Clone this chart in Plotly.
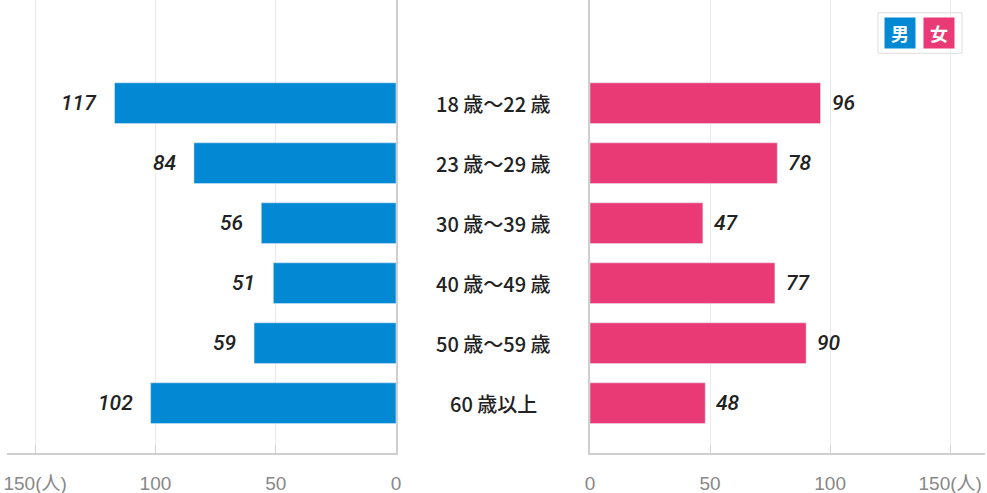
import plotly.graph_objs as go

# Data
age_groups = ["18 歳〜22 歳", "23 歳〜29 歳", "30 歳〜39 歳", "40 歳〜49 歳", "50 歳〜59 歳", "60 歳以上"]
male = [117, 84, 56, 51, 59, 102]
female = [96, 78, 47, 77, 90, 48]
tick_vals = [0, 50, 100, 150]
tick_text = ["0", "50", "100", "150(人)"]

BLUE = "#0389d3"
PINK = "#e93a75"
AXIS_GRAY = "#cfcfcf"
GRID_GRAY = "#ebebeb"

W, H = 987, 493
num_font = dict(family="Roboto, Arial", size=21, color="#222", style="italic", weight=500)

fig = go.Figure()

fig.add_trace(go.Bar(x=male, y=age_groups, orientation="h", marker=dict(color=BLUE),
                     width=0.68, xaxis="x", yaxis="y", hoverinfo="x+y", showlegend=False))
fig.add_trace(go.Bar(x=female, y=age_groups, orientation="h", marker=dict(color=PINK),
                     width=0.68, xaxis="x2", yaxis="y2", hoverinfo="x+y", showlegend=False))

annotations = []
# value labels
for g, v in zip(age_groups, male):
    annotations.append(dict(x=v, y=g, xref="x", yref="y", text=str(v), showarrow=False,
                            xanchor="right", xshift=-16, font=num_font))
for g, v in zip(age_groups, female):
    annotations.append(dict(x=v, y=g, xref="x2", yref="y2", text=str(v), showarrow=False,
                            xanchor="left", xshift=9, font=num_font))
# category labels in the middle
for g in age_groups:
    annotations.append(dict(x=493 / W, y=g, xref="paper", yref="y", text=g, showarrow=False,
                            xanchor="center",
                            font=dict(family="Noto Sans CJK JP", size=20, color="#222", weight=500)))

# legend chips
for label, color, cx in [("男", BLUE, 900), ("女", PINK, 939)]:
    annotations.append(dict(x=cx / W, y=1 - 36 / H, xref="paper", yref="paper",
                            text="<b>" + label + "</b>", showarrow=False,
                            xanchor="center", yanchor="middle",
                            bgcolor=color, width=28, height=28, borderpad=1,
                            font=dict(family="Noto Sans CJK JP", size=18, color="white")))

shapes = [dict(type="rect", xref="paper", yref="paper",
               x0=878 / W, x1=962 / W, y0=1 - 58 / H, y1=1 - 14 / H,
               line=dict(color="#dddddd", width=1), fillcolor="white", layer="below")]

xaxis_common = dict(tickvals=tick_vals, ticktext=tick_text, showgrid=True, gridcolor=GRID_GRAY,
                    gridwidth=1, zeroline=False, showline=True, linecolor=AXIS_GRAY, linewidth=2,
                    ticks="inside", ticklen=8, tickcolor="#d4d4d4", ticklabelstandoff=12,
                    tickfont=dict(family="Liberation Sans, Noto Sans CJK JP", size=19, color="#888"),
                    automargin=False, fixedrange=True)
yaxis_common = dict(showticklabels=False, showgrid=False, zeroline=False, showline=True,
                    linecolor=AXIS_GRAY, linewidth=2, ticks="", automargin=False,
                    range=[5.83, -1.72], fixedrange=True)

fig.update_layout(
    width=W, height=H,
    margin=dict(l=0, r=0, t=0, b=40),
    paper_bgcolor="white",
    plot_bgcolor="white",
    xaxis=dict(xaxis_common, domain=[7 / W, 396 / W], range=[161.7, 0], anchor="y"),
    yaxis=dict(yaxis_common, anchor="x", side="right"),
    xaxis2=dict(xaxis_common, domain=[590 / W, 985 / W], range=[0, 164.5], anchor="y2"),
    yaxis2=dict(yaxis_common, anchor="x2", side="left"),
    annotations=annotations,
    shapes=shapes,
    bargap=0.3,
)

# page body has a default 8px margin; remove it so the figure sits at the corner
fig.write_html("out.html", config={"displayModeBar": False},
               post_script="document.body.style.margin='0';")
